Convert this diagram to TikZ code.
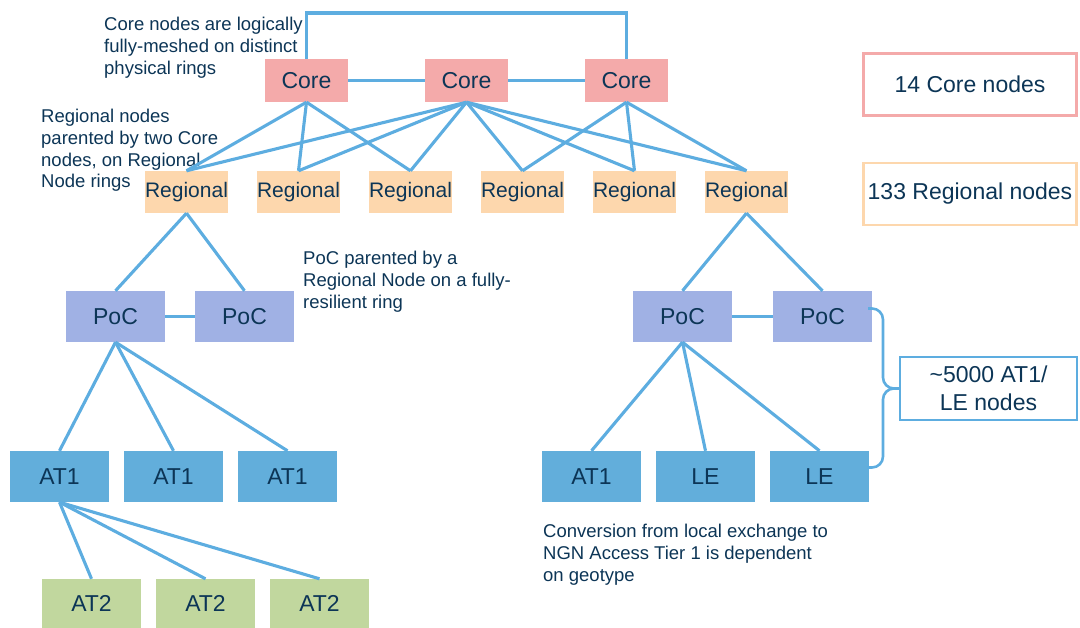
\documentclass[tikz,border=0pt]{standalone}
\usepackage{fontspec}
\setmainfont{Liberation Sans}
\usetikzlibrary{calc}
\definecolor{ink}{HTML}{0C3556}
\definecolor{wire}{HTML}{5DADE0}
\definecolor{corefill}{HTML}{F4AAAA}
\definecolor{regfill}{HTML}{FDD7AD}
\definecolor{pocfill}{HTML}{A0B1E4}
\definecolor{accfill}{HTML}{62AEDB}
\definecolor{at2fill}{HTML}{C1D79E}

\begin{document}
\begin{tikzpicture}[x=1pt,y=-1pt,
  box/.style={inner sep=0pt, text=ink, font=\fontsize{23}{27}\selectfont},
  corebox/.style={box, fill=corefill, minimum width=83pt, minimum height=43pt},
  regbox/.style={box, fill=regfill, minimum width=83pt, minimum height=42pt, font=\fontsize{21}{25}\selectfont},
  pocbox/.style={box, fill=pocfill, minimum width=99pt, minimum height=51pt},
  accbox/.style={box, fill=accfill, minimum width=99pt, minimum height=51pt},
  at2box/.style={box, fill=at2fill, minimum width=99pt, minimum height=49pt},
  keybox/.style={box, draw, line width=2.5pt, align=center, font=\fontsize{23}{28}\selectfont},
  link/.style={draw=wire, line width=3.1pt},
  note/.style={inner sep=0pt, anchor=north west, align=left, text=ink, font=\fontsize{18.5}{21.7}\selectfont}
]
\useasboundingbox (0,0) rectangle (1080,628);

% core tier
\node[corebox] (c1) at (306.5,80.5) {Core};
\node[corebox] (c2) at (466.5,80.5) {Core};
\node[corebox] (c3) at (626.5,80.5) {Core};

% regional tier
\node[regbox] (r1) at (186.5,192) {Regional};
\node[regbox] (r2) at (298.5,192) {Regional};
\node[regbox] (r3) at (410.5,192) {Regional};
\node[regbox] (r4) at (522.5,192) {Regional};
\node[regbox] (r5) at (634.5,192) {Regional};
\node[regbox] (r6) at (746.5,192) {Regional};

% points of connection
\node[pocbox] (p1) at (115.5,316.5) {PoC};
\node[pocbox] (p2) at (244.5,316.5) {PoC};
\node[pocbox] (p3) at (682.5,316.5) {PoC};
\node[pocbox] (p4) at (822.5,316.5) {PoC};

% access tier 1 / local exchanges
\node[accbox] (a1) at (59.5,476.5) {AT1};
\node[accbox] (a2) at (173.5,476.5) {AT1};
\node[accbox] (a3) at (287.5,476.5) {AT1};
\node[accbox] (b1) at (591.5,476.5) {AT1};
\node[accbox] (le1) at (705.5,476.5) {LE};
\node[accbox] (le2) at (819.5,476.5) {LE};

% access tier 2
\node[at2box] (t1) at (91.5,603.5) {AT2};
\node[at2box] (t2) at (205.5,603.5) {AT2};
\node[at2box] (t3) at (319.5,603.5) {AT2};

% key boxes
\node[keybox, draw=corefill, minimum width=213pt, minimum height=62pt] (kc) at (970,84.5) {14 Core nodes};
\node[keybox, draw=regfill, minimum width=213pt, minimum height=62pt] (kr) at (970,194) {133 Regional nodes};
\node[keybox, draw=wire, minimum width=177pt, minimum height=63pt] (ka) at (988.5,388.5) {\textasciitilde5000 AT1/\\LE nodes};

% notes
\node[note] (n1) at (104,17) {Core nodes are logically\\fully-meshed on distinct\\physical rings};
\node[note] (n2) at (41,109) {Regional nodes\\parented by two Core\\nodes, on Regional\\Node rings};
\node[note] (n3) at (303,251) {PoC parented by a\\Regional Node on a fully-\\resilient ring};
\node[note] (n4) at (543,524) {Conversion from local exchange to\\NGN Access Tier 1 is dependent\\on geotype};

% core mesh
\coordinate (ringtop) at (466.5,13);
\draw[link] (c1.north) |- (ringtop) -| (c3.north);
\draw[link] (c1.east) -- (c2.west);
\draw[link] (c2.east) -- (c3.west);

% core to regional
\foreach \r in {r1,r2,r3} \draw[link] (c1.south) -- (\r.north);
\foreach \r in {r1,r2,r3,r4,r5,r6} \draw[link] (c2.south) -- (\r.north);
\foreach \r in {r4,r5,r6} \draw[link] (c3.south) -- (\r.north);

% regional to PoC
\draw[link] (r1.south) -- (p1.north);
\draw[link] (r1.south) -- (p2.north);
\draw[link] (r6.south) -- (p3.north);
\draw[link] (r6.south) -- (p4.north);
\draw[link] (p1.east) -- (p2.west);
\draw[link] (p3.east) -- (p4.west);

% PoC to access
\foreach \a in {a1,a2,a3} \draw[link] (p1.south) -- (\a.north);
\foreach \a in {b1,le1,le2} \draw[link] (p3.south) -- (\a.north);
\foreach \t in {t1,t2,t3} \draw[link] (a1.south) -- (\t.north);

% brace grouping the access nodes
\coordinate (bt) at ($(p4.east)+(-4,-8)$);
\coordinate (bb) at ($(le2.east)+(-2,-9)$);
\coordinate (bm) at (883,388.5);
\draw[wire, line width=2.6pt, rounded corners=11pt] (bt) -| (bm) -- (ka.west);
\draw[wire, line width=2.6pt, rounded corners=11pt] (ka.west) -- (bm) |- (bb);
\end{tikzpicture}
\end{document}
